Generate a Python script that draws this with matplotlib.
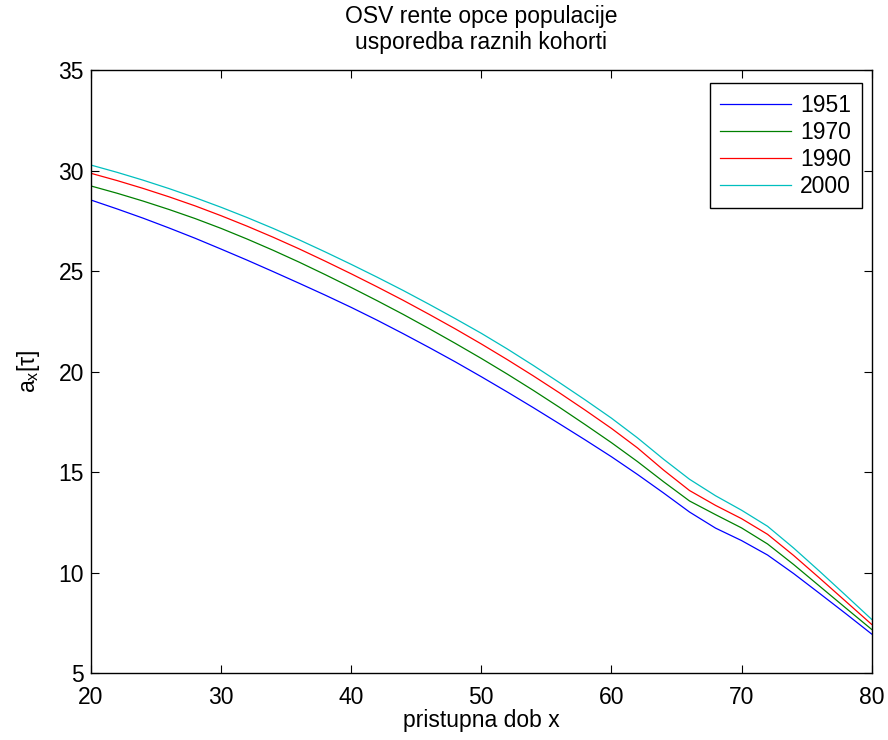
import numpy as np
import matplotlib.pyplot as plt

plt.rcParams['font.family'] = ['Liberation Sans', 'DejaVu Sans']
plt.rcParams['font.size'] = 16.5

# pristupna dob x
dob = [20, 22, 24, 26, 28, 30, 32, 34, 36, 38, 40, 42, 44, 46, 48, 50,
       52, 54, 56, 58, 60, 62, 64, 66, 68, 70, 72, 74, 76, 78, 80]

a_1951 = [28.53, 28.09, 27.63, 27.14, 26.63, 26.09, 25.54, 24.97, 24.39, 23.80,
          23.19, 22.55, 21.88, 21.19, 20.48, 19.74, 18.98, 18.20, 17.40, 16.59,
          15.76, 14.88, 13.96, 13.01, 12.21, 11.59, 10.87, 9.95, 8.96, 7.96, 6.94]
a_1970 = [29.23, 28.87, 28.48, 28.06, 27.61, 27.12, 26.59, 26.03, 25.44, 24.82,
          24.18, 23.52, 22.84, 22.13, 21.40, 20.65, 19.87, 19.06, 18.22, 17.35,
          16.46, 15.52, 14.52, 13.56, 12.88, 12.22, 11.42, 10.40, 9.32, 8.24, 7.17]
a_1990 = [29.86, 29.50, 29.11, 28.69, 28.24, 27.75, 27.23, 26.68, 26.10, 25.49,
          24.86, 24.21, 23.54, 22.84, 22.12, 21.37, 20.59, 19.78, 18.94, 18.07,
          17.17, 16.20, 15.10, 14.08, 13.34, 12.68, 11.90, 10.85, 9.72, 8.57, 7.42]
a_2000 = [30.27, 29.91, 29.52, 29.10, 28.65, 28.17, 27.66, 27.12, 26.55, 25.95,
          25.33, 24.69, 24.03, 23.34, 22.63, 21.90, 21.12, 20.30, 19.45, 18.58,
          17.68, 16.70, 15.64, 14.64, 13.82, 13.10, 12.30, 11.22, 10.06, 8.87, 7.67]

fig = plt.figure(figsize=(8.88, 7.4), dpi=100)
ax = fig.add_axes([0.1025, 0.0905, 0.8791, 0.8149])

ax.plot(dob, a_1951, color=(0, 0, 1), lw=0.9, label='1951')
ax.plot(dob, a_1970, color=(0, 0.5, 0), lw=0.9, label='1970')
ax.plot(dob, a_1990, color=(1, 0, 0), lw=0.9, label='1990')
ax.plot(dob, a_2000, color=(0, 0.75, 0.75), lw=0.9, label='2000')

ax.set_xlim(20, 80)
ax.set_ylim(5, 35)
ax.set_xticks(np.arange(20, 81, 10))
ax.set_yticks(np.arange(5, 36, 5))
ax.tick_params(direction='in', top=True, right=True, length=6, width=0.8, pad=5)
ax.tick_params(axis='x', pad=9)
for s in ax.spines.values():
    s.set_linewidth(1.0)

ax.set_title('OSV rente opce populacije\nusporedba raznih kohorti', fontsize=16.5,
             linespacing=1.15, pad=15)
ax.set_xlabel('pristupna dob x', labelpad=0)
ax.set_ylabel('a$_\\mathregular{x}$[τ]', labelpad=12)

leg = ax.legend(loc='upper right', bbox_to_anchor=(0.987, 0.978), borderaxespad=0,
                fancybox=False, edgecolor='black', framealpha=1, handlelength=3.1,
                handletextpad=0.4, labelspacing=0.18, borderpad=0.45)
leg.get_frame().set_linewidth(1.0)

fig.savefig('out.png', dpi=100)
